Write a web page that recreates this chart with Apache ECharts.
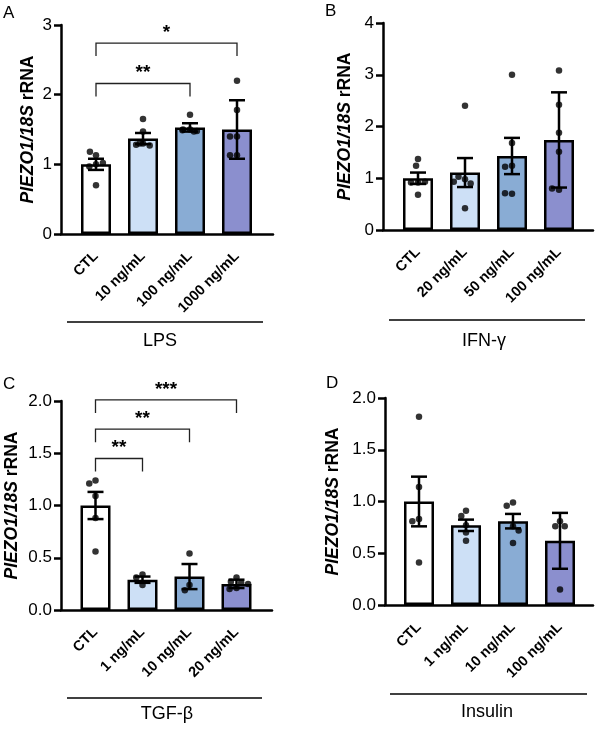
<!DOCTYPE html>
<html><head><meta charset="utf-8">
<script src="https://cdn.jsdelivr.net/npm/echarts@6/dist/echarts.min.js"></script>
<style>html,body{margin:0;padding:0;background:#fff}#c{width:596px;height:729px}</style>
</head><body><div id="c"></div>
<script>
// ---------- DATA ----------
const catsA = ['CTL', '10 ng/mL', '100 ng/mL', '1000 ng/mL'];
const meanA = [1.00, 1.37, 1.53, 1.50];
const errA  = [0.08, 0.08, 0.06, 0.42];
const ptsA  = [[1.13, 1.18, 1.00, 0.97, 1.02, 0.70], [1.65, 1.47, 1.30, 1.28, 1.27, 1.30], [1.71, 1.50, 1.50, 1.48, 1.47, 1.49], [2.20, 1.78, 1.40, 1.40, 1.13, 1.13]];
const sigA  = [[0, 3, 2.74, '*'], [0, 2, 2.16, '**']];
const ticksA = [0, 1, 2, 3];

const catsB = ['CTL', '20 ng/mL', '50 ng/mL', '100 ng/mL'];
const meanB = [1.00, 1.11, 1.43, 1.74];
const errB  = [0.11, 0.28, 0.35, 0.92];
const ptsB  = [[1.37, 1.24, 0.92, 0.92, 0.93, 0.68], [2.40, 0.98, 1.03, 0.90, 0.93, 0.42], [3.00, 1.68, 1.24, 1.22, 0.70, 0.71], [3.08, 2.42, 1.88, 1.51, 0.78, 0.80]];
const sigB  = [];
const ticksB = [0, 1, 2, 3, 4];

const catsC = ['CTL', '1 ng/mL', '10 ng/mL', '20 ng/mL'];
const meanC = [1.00, 0.29, 0.32, 0.25];
const errC  = [0.13, 0.03, 0.12, 0.04];
const ptsC  = [[1.24, 1.21, 1.09, 0.88, 0.56], [0.34, 0.31, 0.24], [0.54, 0.24, 0.19], [0.31, 0.27, 0.26, 0.25, 0.21, 0.20]];
const sigC  = [[0, 3, 2.01, '***'], [0, 2, 1.73, '**'], [0, 1, 1.45, '**']];
const ticksC = [0, 0.5, 1.0, 1.5, 2.0];

const catsD = ['CTL', '1 ng/mL', '10 ng/mL', '100 ng/mL'];
const meanD = [1.00, 0.77, 0.81, 0.62];
const errD  = [0.24, 0.055, 0.07, 0.27];
const ptsD  = [[1.82, 1.14, 0.83, 0.81, 0.41], [0.91, 0.86, 0.77, 0.70, 0.62], [0.99, 0.96, 0.76, 0.72, 0.60], [0.81, 0.76, 0.76, 0.15]];
const sigD  = [];
const ticksD = [0, 0.5, 1.0, 1.5, 2.0];

const groupNames = ['LPS', 'IFN-γ', 'TGF-β', 'Insulin'];
const panelLetters = ['A', 'B', 'C', 'D'];

// ---------- STYLE / LAYOUT ----------
const FONT = '"Liberation Sans", Arial, Helvetica, sans-serif';
const barColors = ['#ffffff', '#cde0f6', '#89acd4', '#8b8fce'];

const layouts = [
  { outer: { left: 61, top: 25, width: 212, height: 209 }, innerLeft: 72.5, nameGap: 24, dec: 0,
    letter: [3, 13], line: [67, 263, 322], text: [160, 341.5] },
  { outer: { left: 383, top: 23, width: 210, height: 207 }, innerLeft: 394.5, nameGap: 29, dec: 0,
    letter: [325, 11], line: [389, 585, 320], text: [484, 341] },
  { outer: { left: 61, top: 401, width: 211, height: 209 }, innerLeft: 72, nameGap: 40, dec: 1,
    letter: [3, 383.5], line: [67, 262, 698], text: [167, 714] },
  { outer: { left: 385, top: 398, width: 208, height: 207 }, innerLeft: 395.5, nameGap: 43, dec: 1,
    letter: [326, 383], line: [390, 587, 694], text: [487, 712] }
];

const panels = [
  { cats: catsA, mean: meanA, err: errA, pts: ptsA, sig: sigA, ticks: ticksA },
  { cats: catsB, mean: meanB, err: errB, pts: ptsB, sig: sigB, ticks: ticksB },
  { cats: catsC, mean: meanC, err: errC, pts: ptsC, sig: sigC, ticks: ticksC },
  { cats: catsD, mean: meanD, err: errD, pts: ptsD, sig: sigD, ticks: ticksD }
];

const grid = [], xAxis = [], yAxis = [], series = [], graphic = [];

panels.forEach((p, k) => {
  const L = layouts[k];
  const yMin = p.ticks[0], yMax = p.ticks[p.ticks.length - 1], yInt = p.ticks[1] - p.ticks[0];
  const go = 2 * k, gi = 2 * k + 1;
  grid.push(Object.assign({ containLabel: false, outerBoundsMode: 'none' }, L.outer));
  grid.push({ containLabel: false, outerBoundsMode: 'none', left: L.innerLeft, top: L.outer.top,
              width: 188, height: L.outer.height });
  // outer axes (frame + y ticks)
  xAxis.push({ gridIndex: go, type: 'value', min: 0, max: 1,
    axisLine: { show: true, lineStyle: { color: '#000', width: 2.5 } },
    axisTick: { show: false }, axisLabel: { show: false }, splitLine: { show: false } });
  yAxis.push({ gridIndex: go, type: 'value', min: yMin, max: yMax, interval: yInt,
    axisLine: { show: true, lineStyle: { color: '#000', width: 2.5 } },
    axisTick: { show: true, length: 7, lineStyle: { color: '#000', width: 2.5 } },
    axisLabel: { show: true, color: '#000', fontSize: 17, fontFamily: FONT, margin: 9,
      formatter: v => v.toFixed(L.dec) },
    splitLine: { show: false },
    name: '{i|PIEZO1/18S} rRNA', nameLocation: 'middle', nameGap: L.nameGap, nameRotate: 90,
    nameTextStyle: { color: '#000', fontSize: 17.5, fontWeight: 'bold', fontFamily: FONT,
      rich: { i: { fontStyle: 'italic', fontWeight: 'bold', fontSize: 17.5, fontFamily: FONT, color: '#000' } } } });
  // inner axes (categories)
  xAxis.push({ gridIndex: gi, type: 'category', data: p.cats,
    jitter: 26, jitterOverlap: false, jitterMargin: 0.5,
    axisLine: { show: false }, axisTick: { show: false }, splitLine: { show: false },
    axisLabel: { rotate: 45, interval: 0, color: '#000', fontSize: 14.5, fontWeight: 'bold', fontFamily: FONT, margin: 20 } });
  yAxis.push({ gridIndex: gi, type: 'value', min: yMin, max: yMax, show: false });

  series.push({ type: 'bar', xAxisIndex: gi, yAxisIndex: gi, barWidth: 30, z: 2,
    data: p.mean.map((v, i) => ({ value: v, itemStyle: { color: barColors[i] } })),
    itemStyle: { borderColor: '#000', borderWidth: 2.5 } });
  series.push({ type: 'scatter', xAxisIndex: gi, yAxisIndex: gi, symbolSize: 6.5, z: 4,
    itemStyle: { color: '#000' },
    data: p.pts.flatMap((arr, i) => arr.map(v => [i, v])) });
  series.push({ type: 'custom', xAxisIndex: gi, yAxisIndex: gi, z: 5, clip: false,
    data: p.mean.map((v, i) => [i, v, p.err[i]]),
    renderItem: (params, api) => {
      const x = api.value(0), m = api.value(1), e = api.value(2);
      const t = api.coord([x, m + e]), b = api.coord([x, m - e]);
      const hw = 8, st = { stroke: '#000', lineWidth: 2.5 };
      return { type: 'group', children: [
        { type: 'line', shape: { x1: t[0], y1: t[1], x2: b[0], y2: b[1] }, style: st },
        { type: 'line', shape: { x1: t[0] - hw, y1: t[1], x2: t[0] + hw, y2: t[1] }, style: st },
        { type: 'line', shape: { x1: b[0] - hw, y1: b[1], x2: b[0] + hw, y2: b[1] }, style: st }
      ] };
    } });
  if (p.sig.length) {
    series.push({ type: 'custom', xAxisIndex: gi, yAxisIndex: gi, z: 6, clip: false,
      data: p.sig.map(s => [s[0], s[1], s[2]]),
      renderItem: (params, api) => {
        const s = p.sig[params.dataIndex];
        const a = api.coord([api.value(0), api.value(2)]), b = api.coord([api.value(1), api.value(2)]);
        const drop = 13;
        return { type: 'group', children: [
          { type: 'polyline', shape: { points: [[a[0], a[1] + drop], [a[0], a[1]], [b[0], b[1]], [b[0], b[1] + drop]] },
            style: { stroke: '#222', lineWidth: 1.3, fill: null } },
          { type: 'text', style: { text: s[3], x: (a[0] + b[0]) / 2, y: a[1] - 1, align: 'center', verticalAlign: 'bottom',
            font: 'bold 19px ' + FONT, fill: '#000' } }
        ] };
      } });
  }
  graphic.push({ type: 'text', left: L.letter[0], top: L.letter[1] - 8,
    style: { text: panelLetters[k], font: '17px ' + FONT, fill: '#000' } });
  graphic.push({ type: 'line', shape: { x1: L.line[0], y1: L.line[2], x2: L.line[1], y2: L.line[2] },
    style: { stroke: '#000', lineWidth: 1.4 } });
  graphic.push({ type: 'text', x: L.text[0], y: L.text[1],
    style: { text: groupNames[k], font: '18px ' + FONT, fill: '#000', align: 'center', verticalAlign: 'middle' } });
});

const chart = echarts.init(document.getElementById('c'), null, { renderer: 'canvas' });
chart.setOption({ animation: false, backgroundColor: '#fff', grid, xAxis, yAxis, series, graphic });
</script></body></html>
